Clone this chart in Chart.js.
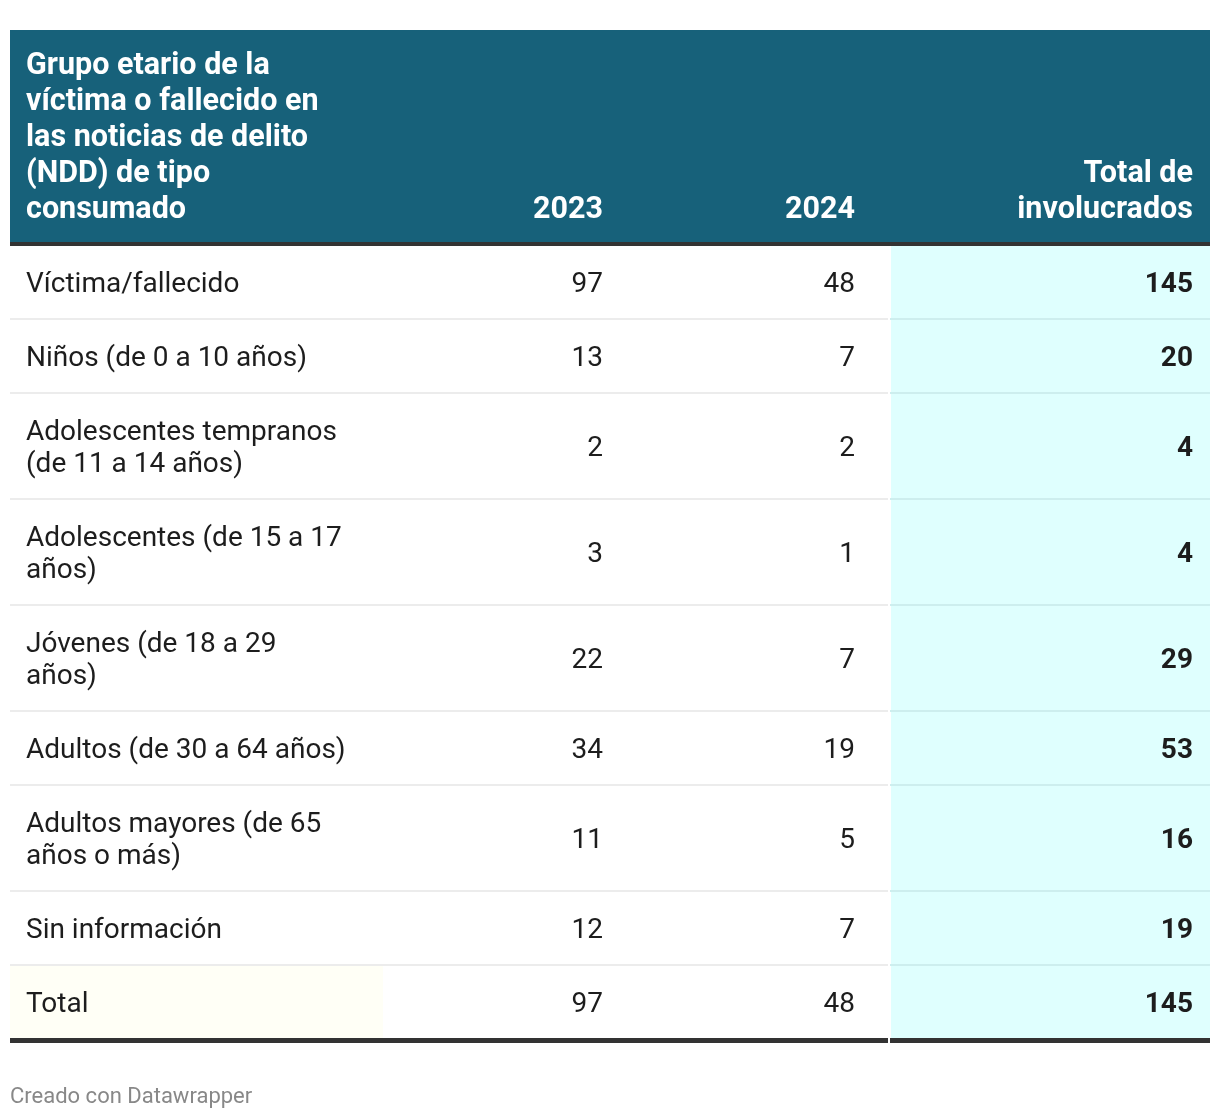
<!DOCTYPE html>
<html lang="es">
<head>
  <meta charset="UTF-8">
  <title>Grupo etario de la víctima o fallecido</title>
  <script src="https://cdn.jsdelivr.net/npm/chart.js"></script>
  <style>
    body { margin: 0; background: #fff; }
    #wrap { position: relative; width: 1220px; height: 1120px; }
    #foot { position: absolute; left: 10px; top: 1083px; font: 22px Roboto, sans-serif; color: #888; line-height: 26px; }
  </style>
</head>
<body>
<div id="wrap">
  <canvas id="tabla" width="1220" height="1120"></canvas>
  <div id="foot">Creado con Datawrapper</div>
</div>

<script>
  // datos
  const headers = [
    ['Grupo etario de la', 'víctima o fallecido en', 'las noticias de delito', '(NDD) de tipo', 'consumado'],
    ['2023'],
    ['2024'],
    ['Total de', 'involucrados']
  ];
  const categories = [
    ['Víctima/fallecido'],
    ['Niños (de 0 a 10 años)'],
    ['Adolescentes tempranos', '(de 11 a 14 años)'],
    ['Adolescentes (de 15 a 17', 'años)'],
    ['Jóvenes (de 18 a 29', 'años)'],
    ['Adultos (de 30 a 64 años)'],
    ['Adultos mayores (de 65', 'años o más)'],
    ['Sin información'],
    ['Total']
  ];
  const values2023 = [97, 13, 2, 3, 22, 34, 11, 12, 97];
  const values2024 = [48, 7, 2, 1, 7, 19, 5, 7, 48];
  const totals = [145, 20, 4, 4, 29, 53, 16, 19, 145];

  // layout en unidades de la tabla (1 unidad = 1px)
  const COL = { label: 16, y2023: 593, y2024: 845, total: 1183, hiStart: 881, hiEnd: 1200, footEnd: 373 };
  const HEAD_H = 212, HEAD_LINE = 4, ROW1 = 74, ROW2 = 106, LINE_H = 32;

  let rowTop = HEAD_H + HEAD_LINE;
  const rows = categories.map(l => {
    const h = l.length > 1 ? ROW2 : ROW1;
    const r = { top: rowTop, bottom: rowTop + h, center: rowTop + (h - 2) / 2 };
    rowTop += h;
    return r;
  });
  const tableBottom = rowTop + 3;
  const headY = HEAD_H - 35;

  const font = (w, s) => w + ' ' + s + 'px Roboto, sans-serif';

  function pts(x, n) {
    return rows.slice(0, n).map(r => ({ x: x, y: r.center }));
  }

  const tablePlugin = {
    id: 'tablePlugin',
    beforeDatasetsDraw(chart) {
      const ctx = chart.ctx;
      const sx = v => chart.scales.x.getPixelForValue(v);
      const sy = v => chart.scales.y.getPixelForValue(v);
      ctx.save();
      // cabecera
      ctx.fillStyle = '#17617a';
      ctx.fillRect(sx(0), sy(0), sx(1200) - sx(0), sy(HEAD_H) - sy(0));
      // columna resaltada
      ctx.fillStyle = '#dffffe';
      ctx.fillRect(sx(COL.hiStart), sy(HEAD_H + HEAD_LINE), sx(COL.hiEnd) - sx(COL.hiStart), sy(tableBottom) - sy(HEAD_H + HEAD_LINE));
      // celda total
      const last = rows[rows.length - 1];
      ctx.fillStyle = '#fffff6';
      ctx.fillRect(sx(0), sy(last.top), sx(COL.footEnd) - sx(0), sy(last.bottom) - sy(last.top));
      // separadores
      rows.slice(0, -1).forEach(r => {
        ctx.fillStyle = '#ececec';
        ctx.fillRect(sx(0), sy(r.bottom - 2), sx(COL.hiStart - 3) - sx(0), 2);
        ctx.fillStyle = '#cdeeee';
        ctx.fillRect(sx(COL.hiStart - 1), sy(r.bottom - 2), sx(1200) - sx(COL.hiStart - 1), 2);
      });
      // lineas gruesas
      ctx.fillStyle = '#333333';
      ctx.fillRect(sx(0), sy(HEAD_H), sx(1200) - sx(0), sy(HEAD_H + HEAD_LINE) - sy(HEAD_H));
      ctx.fillRect(sx(0), sy(last.bottom - 2), sx(COL.hiStart - 3) - sx(0), 5);
      ctx.fillRect(sx(COL.hiStart - 1), sy(last.bottom - 2), sx(1200) - sx(COL.hiStart - 1), 5);
      ctx.restore();
    },
    afterDatasetsDraw(chart) {
      const ctx = chart.ctx;
      ctx.save();
      ctx.textBaseline = 'middle';
      chart.data.datasets.forEach((ds, i) => {
        const meta = chart.getDatasetMeta(i);
        meta.data.forEach((el, j) => {
          let lines = ds.texts[j];
          if (!Array.isArray(lines)) lines = [String(lines)];
          ctx.font = font(ds.bold ? 'bold' : 'normal', ds.size);
          ctx.fillStyle = ds.color;
          ctx.textAlign = Array.isArray(ds.align) ? ds.align[j] : ds.align;
          const lh = ds.lineHeight;
          const y0 = ds.bottomAlign ? el.y - (lines.length - 1) * lh : el.y - (lines.length - 1) * lh / 2;
          lines.forEach((t, k) => ctx.fillText(t, el.x, y0 + k * lh + 3));
        });
      });
      ctx.restore();
    }
  };

  const common = { pointRadius: 0, pointHoverRadius: 0 };

  new Chart(document.getElementById('tabla').getContext('2d'), {
    type: 'scatter',
    data: {
      datasets: [
        Object.assign({ label: 'cabecera', data: [COL.label, COL.y2023, COL.y2024, COL.total].map(x => ({ x: x, y: headY })),
          texts: headers, align: ['left', 'right', 'right', 'right'], bold: true, size: 30.5, lineHeight: 36, color: '#ffffff', bottomAlign: true }, common),
        Object.assign({ label: 'grupo', data: pts(COL.label, categories.length), texts: categories,
          align: 'left', bold: false, size: 28, lineHeight: LINE_H, color: '#1d1d1d' }, common),
        Object.assign({ label: '2023', data: pts(COL.y2023, values2023.length), texts: values2023,
          align: 'right', bold: false, size: 28, lineHeight: LINE_H, color: '#1d1d1d' }, common),
        Object.assign({ label: '2024', data: pts(COL.y2024, values2024.length), texts: values2024,
          align: 'right', bold: false, size: 28, lineHeight: LINE_H, color: '#1d1d1d' }, common),
        Object.assign({ label: 'Total de involucrados', data: pts(COL.total, totals.length), texts: totals,
          align: 'right', bold: true, size: 28, lineHeight: LINE_H, color: '#1d1d1d' }, common)
      ]
    },
    options: {
      responsive: false,
      animation: false,
      events: [],
      layout: { padding: { left: 10, right: 10, top: 30, bottom: 1120 - 30 - tableBottom } },
      plugins: { legend: { display: false }, tooltip: { enabled: false } },
      scales: {
        x: { type: 'linear', min: 0, max: 1200, display: false },
        y: { type: 'linear', min: 0, max: tableBottom, reverse: true, display: false }
      }
    },
    plugins: [tablePlugin]
  });
</script>
</body>
</html>
